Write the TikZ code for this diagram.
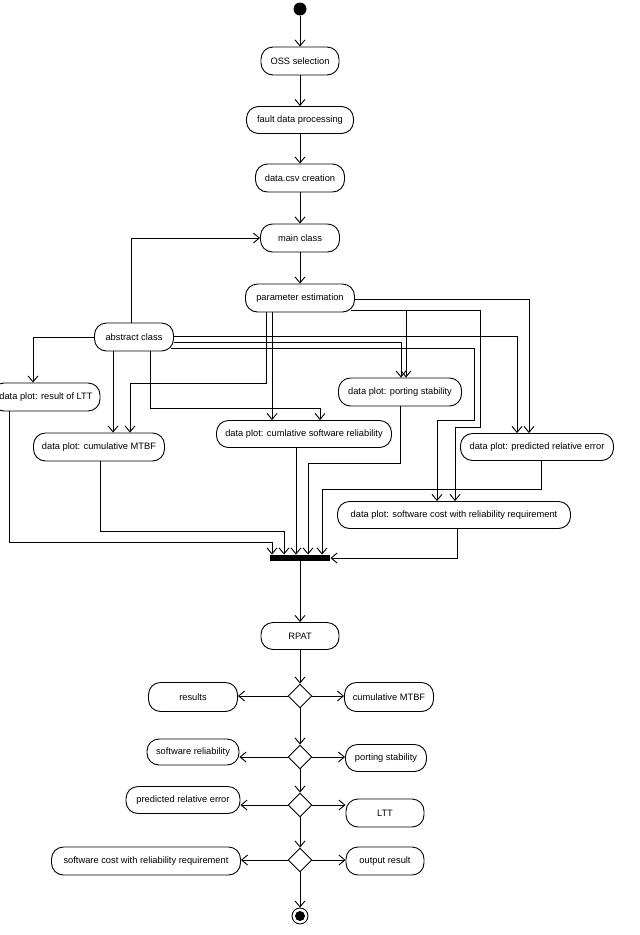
\documentclass[tikz,border=0pt]{standalone}
\usepackage{fontspec}
\setmainfont{Liberation Sans}
\usetikzlibrary{arrows.meta,shapes.geometric}
\begin{document}
\begin{tikzpicture}[x=1pt,y=-1pt,
  line width=0.9pt,
  act/.style={draw, rounded corners=12pt, inner sep=0pt, font=\fontsize{9.3}{10}\selectfont},
  flow/.style={-{Straight Barb[length=6pt,width=10pt]}},
  choice/.style={draw, diamond, aspect=1, inner sep=0pt, minimum width=24pt, minimum height=24pt},
]
\useasboundingbox (0,0) rectangle (640,935);

% ---------- activities ----------
\node[circle, fill, minimum size=13pt, inner sep=0pt] (start) at (300,9) {};
\node[act, minimum width=78pt, minimum height=28pt] (oss) at (300,61) {OSS selection};
\node[act, minimum width=107pt, minimum height=27pt] (fault) at (300,120) {fault data processing};
\node[act, minimum width=89pt, minimum height=28pt] (csv) at (300,178) {data.csv creation};
\node[act, minimum width=79pt, minimum height=28pt] (main) at (300,238) {main class};
\node[act, minimum width=109pt, minimum height=28pt] (param) at (300,298) {parameter estimation};
\node[act, minimum width=79pt, minimum height=28pt] (abstract) at (134,337) {abstract class};

\node[act, minimum width=108pt, minimum height=28pt] (ltt) at (46,397) {data plot: result of LTT};
\node[act, minimum width=131pt, minimum height=28pt] (mtbf) at (99,447) {data plot: cumulative MTBF};
\node[act, minimum width=175pt, minimum height=27pt] (softrel) at (304,434) {data plot: cumlative software reliability};
\node[act, minimum width=123pt, minimum height=28pt] (porting) at (400,392) {data plot: porting stability};
\node[act, minimum width=153pt, minimum height=27pt] (prederr) at (537,447) {data plot: predicted relative error};
\node[act, minimum width=233pt, minimum height=27pt] (swcost) at (454,515) {data plot: software cost with reliability requirement};

\node[fill=black, minimum width=60pt, minimum height=6pt, inner sep=0pt] (bar) at (300,558) {};

\node[act, minimum width=78pt, minimum height=27pt] (rpat) at (300,636) {RPAT};
\node[choice] (d1) at (300,696) {};
\node[choice] (d2) at (300,757) {};
\node[choice] (d3) at (300,805) {};
\node[choice] (d4) at (300,860) {};

\node[act, minimum width=89pt, minimum height=29pt] (results) at (193,697) {results};
\node[act, minimum width=89pt, minimum height=29pt] (rmtbf) at (389,697) {cumulative MTBF};
\node[act, minimum width=92pt, minimum height=26pt] (rswrel) at (193,752) {software reliability};
\node[act, minimum width=81pt, minimum height=27pt] (rport) at (386,758) {porting stability};
\node[act, minimum width=114pt, minimum height=27pt] (rpred) at (183,800) {predicted relative error};
\node[act, minimum width=78pt, minimum height=28pt] (rltt) at (385,813) {LTT};
\node[act, minimum width=189pt, minimum height=28pt] (rswcost) at (146,861) {software cost with reliability requirement};
\node[act, minimum width=78pt, minimum height=28pt] (rout) at (385,861) {output result};

\node[circle, draw, minimum size=16pt, inner sep=0pt] (end) at (300,916) {};
\fill (end.center) circle (5pt);

% ---------- main sequence ----------
\draw[flow] (start) -- (oss);
\draw[flow] (oss) -- (fault);
\draw[flow] (fault) -- (csv);
\draw[flow] (csv) -- (main);
\draw[flow] (main) -- (param);
\draw[flow] ([xshift=-3pt]abstract.north) |- (main.west);

% ---------- abstract class fan-out ----------
\draw[flow] (abstract.west) -| ([xshift=-13pt]ltt.north);
\draw[flow] ([xshift=-21pt]abstract.south) -- ([xshift=-21pt]abstract.south |- mtbf.north);
\draw[flow] ([xshift=16pt]abstract.south) -- ++(0,57) -| ([xshift=16pt]softrel.north);
\draw[flow] ([yshift=-5pt]abstract.east) -| ([xshift=1pt]porting.north);
\draw[flow] ([yshift=1pt]abstract.east) -| ([xshift=-20pt]prederr.north);
\draw[flow] ([xshift=-3pt,yshift=-11pt]abstract.east) -- ++(303,0) -- ++(0,72) -| ([xshift=-17pt]swcost.north);

% ---------- parameter estimation fan-out ----------
\draw[flow] ([xshift=-34pt]param.south) -- ++(0,71) -| ([xshift=31pt]mtbf.north);
\draw[flow] ([xshift=-28pt]param.south) -- ([xshift=-28pt]param.south |- softrel.north);
\draw[flow] ([yshift=-1pt]param.east) -| ([xshift=-8pt]prederr.north);
\draw[flow] ([xshift=-4pt,yshift=-12pt]param.east) -| ([xshift=6pt]porting.north);
\draw[flow] ([xshift=-4pt,yshift=-12pt]param.east) -- ++(129,0) -- ++(0,117) -| ([xshift=1pt]swcost.north);

% ---------- plots join ----------
\draw[flow] ([xshift=-37pt]ltt.south) -- ++(0,131) -| ([xshift=-28pt]bar.north);
\draw[flow] ([xshift=1pt]mtbf.south) -- ++(0,70) -| ([xshift=-16pt]bar.north);
\draw[flow] ([xshift=-8pt]softrel.south) -- ([xshift=-8pt]softrel.south |- bar.north);
\draw[flow] (porting.south) -- ++(0,57) -| ([xshift=8pt]bar.north);
\draw[flow] ([xshift=4pt]prederr.south) -- ++(0,28) -| ([xshift=22pt]bar.north);
\draw[flow] ([xshift=3pt]swcost.south) |- (bar.east);

% ---------- RPAT outputs ----------
\draw[flow] (bar) -- (rpat);
\draw[flow] (rpat) -- (d1);
\draw[flow] (d1) -- (d2);
\draw[flow] (d2) -- (d3);
\draw[flow] (d3) -- (d4);
\draw[flow] (d4) -- (end);
\draw[flow] (d1.west) -- (d1.west -| results.east);
\draw[flow] (d1.east) -- (d1.east -| rmtbf.west);
\draw[flow] (d2.west) -- (d2.west -| rswrel.east);
\draw[flow] (d2.east) -- (d2.east -| rport.west);
\draw[flow] (d3.west) -- (d3.west -| rpred.east);
\draw[flow] (d3.east) -- (d3.east -| rltt.west);
\draw[flow] (d4.west) -- (d4.west -| rswcost.east);
\draw[flow] (d4.east) -- (d4.east -| rout.west);
\end{tikzpicture}
\end{document}
